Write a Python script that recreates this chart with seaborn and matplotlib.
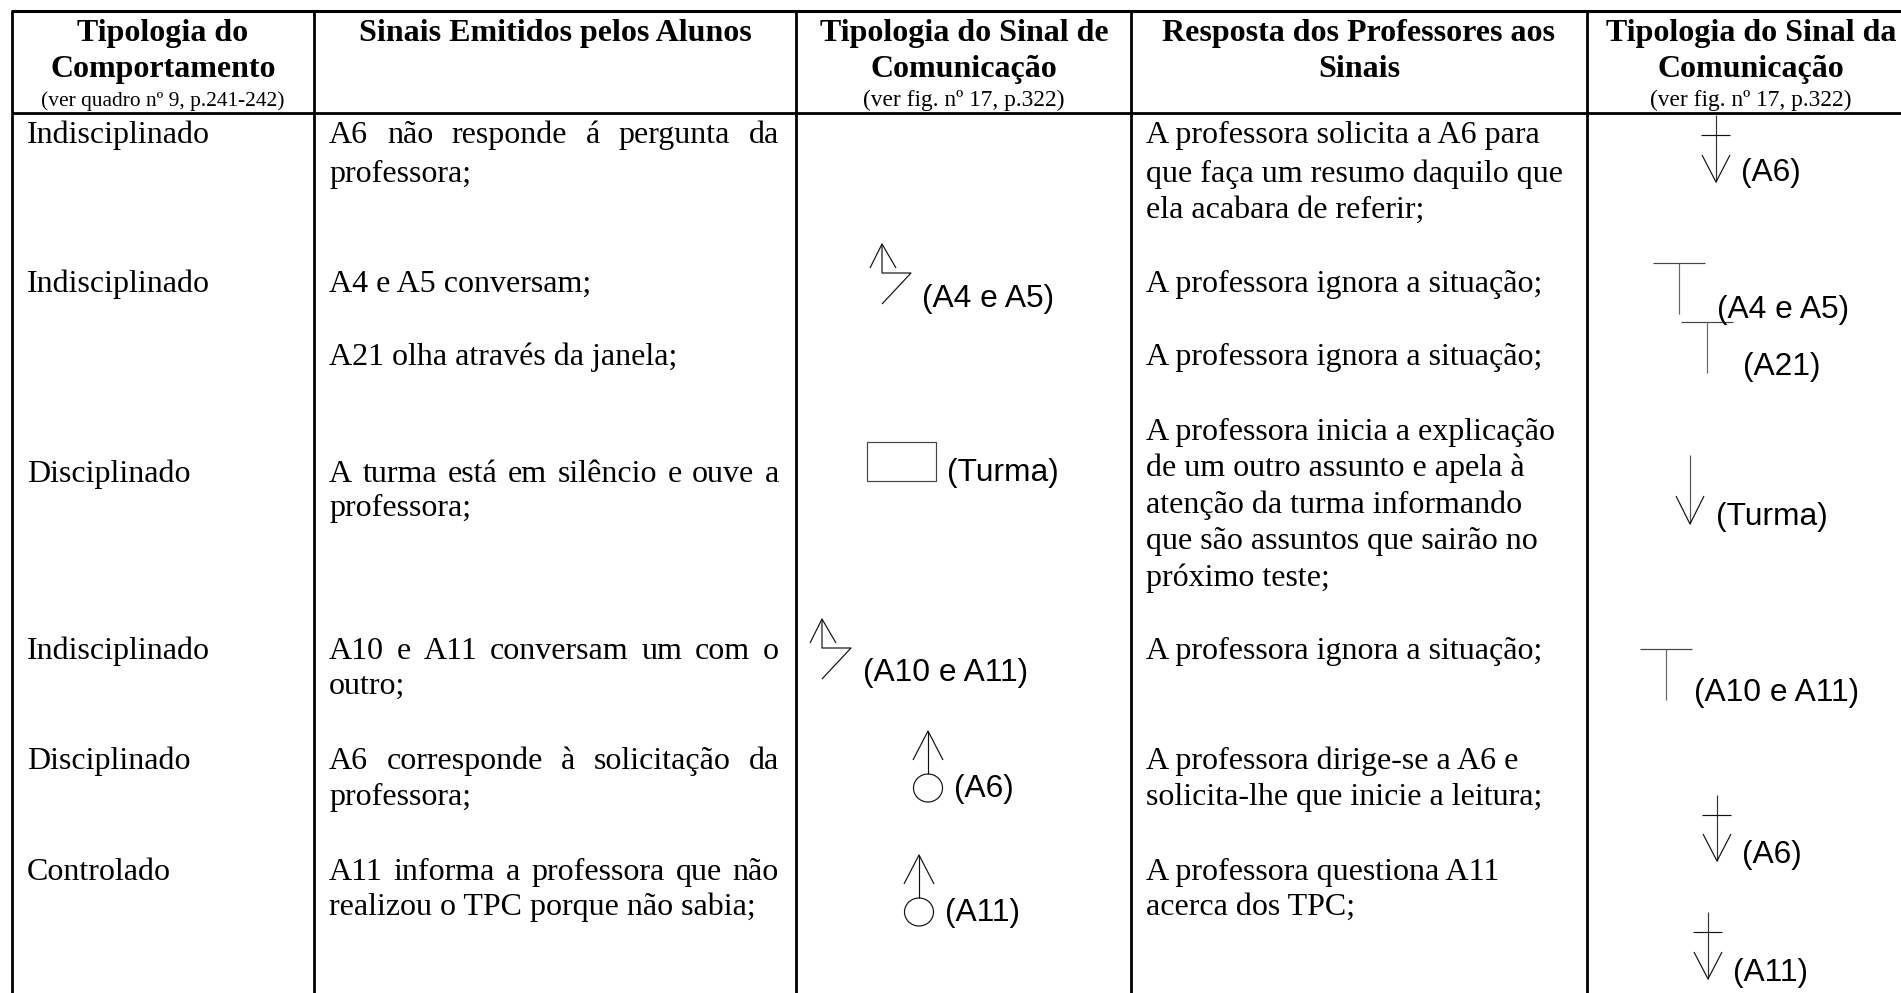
import matplotlib
matplotlib.use('Agg')
import matplotlib.pyplot as plt
from matplotlib.patches import Ellipse, Rectangle
import seaborn as sns

SERIF = 'Liberation Serif'
SANS = 'Liberation Sans'
BODY = 23.0
LABEL = 22.9

# cabecalho: (centro, baseline, texto)
header_titles = [
    (163, 41, 'Tipologia do'), (163, 77, 'Comportamento'),
    (555, 41, 'Sinais Emitidos pelos Alunos'),
    (964, 41, 'Tipologia do Sinal de'), (964, 77, 'Comunicação'),
    (1359, 41, 'Resposta dos Professores aos'), (1359, 77, 'Sinais'),
    (1751, 41, 'Tipologia do Sinal da'), (1751, 77, 'Comunicação'),
]
header_notes = [
    (163, 106, '(ver quadro nº 9, p.241-242)', 15.4),
    (964, 106, '(ver fig. nº 17, p.322)', 16.8),
    (1751, 106, '(ver fig. nº 17, p.322)', 16.8),
]

behaviour = [
    (143, 'Indisciplinado'), (292, 'Indisciplinado'), (482, 'Disciplinado'),
    (659, 'Indisciplinado'), (769, 'Disciplinado'), (880, 'Controlado'),
]

# sinais dos alunos, linhas justificadas marcadas com True
signals = [
    (143, 'A6 não responde á pergunta da', True), (182, 'professora;', False),
    (292, 'A4 e A5 conversam;', False),
    (365, 'A21 olha através da janela;', False),
    (482, 'A turma está em silêncio e ouve a', True), (516, 'professora;', False),
    (659, 'A10 e A11 conversam um com o', True), (694, 'outro;', False),
    (769, 'A6 corresponde à solicitação da', True), (805, 'professora;', False),
    (880, 'A11 informa a professora que não', True), (915, 'realizou o TPC porque não sabia;', False),
]

responses = [
    (143, 'A professora solicita a A6 para'), (182, 'que faça um resumo daquilo que'),
    (218, 'ela acabara de referir;'),
    (292, 'A professora ignora a situação;'), (365, 'A professora ignora a situação;'),
    (440, 'A professora inicia a explicação'), (476, 'de um outro assunto e apela à'),
    (513, 'atenção da turma informando'), (549, 'que são assuntos que sairão no'),
    (586, 'próximo teste;'),
    (659, 'A professora ignora a situação;'),
    (769, 'A professora dirige-se a A6 e'), (805, 'solicita-lhe que inicie a leitura;'),
    (880, 'A professora questiona A11'), (915, 'acerca dos TPC;'),
]

symbol_labels = [
    (922, 307, '(A4 e A5)'), (947, 481, '(Turma)'), (863, 681, '(A10 e A11)'),
    (954, 797, '(A6)'), (945, 921, '(A11)'),
    (1741, 181, '(A6)'), (1717, 318, '(A4 e A5)'), (1743, 375, '(A21)'),
    (1716, 525, '(Turma)'), (1694, 701, '(A10 e A11)'),
    (1742, 863, '(A6)'), (1733, 981, '(A11)'),
]

# simbolos: (x, y) de referencia de cada sinal
zigzag_signs = [(882, 244), (822, 619)]
circle_signs = [(928, 731), (919, 855)]
box_signs = [(867, 442, 69, 39)]
down_arrows = [(1690, 455, 524)]
t_signs = [(1679, 263, 314), (1707, 322, 373), (1666, 649, 700)]
cross_arrows = [(1716, 115, 182), (1717, 795, 861), (1708, 912, 979)]

col_edges = [12, 314, 796, 1131, 1587]
top_y, header_y = 11, 113

sns.set_theme(style='white')
plt.rcParams['text.color'] = 'black'
fig, ax = plt.subplots(figsize=(19.01, 9.93), dpi=100)
ax.set_position([0, 0, 1, 1])
ax.set_xlim(0, 1901)
ax.set_ylim(993, 0)
ax.axis('off')


def stroke(xs, ys, lw=0.85, color='#111111'):
    sns.lineplot(x=xs, y=ys, sort=False, estimator=None, ax=ax, color=color,
                 linewidth=lw, legend=False, solid_capstyle='butt')


def arrow_head(x, tip, dy):
    stroke([x - 14, x, x + 14], [tip - dy, tip, tip - dy])


# grelha
for x in col_edges:
    stroke([x, x], [top_y, 993], lw=2.0, color='black')
stroke([col_edges[0] - 1, 1901], [top_y, top_y], lw=2.2, color='black')
stroke([col_edges[0], 1901], [header_y, header_y], lw=2.0, color='black')

# textos
for x, y, s in header_titles:
    ax.text(x, y, s, family=SERIF, weight='bold', size=BODY, ha='center', va='baseline')
for x, y, s, size in header_notes:
    ax.text(x, y, s, family=SERIF, size=size, ha='center', va='baseline')
for y, s in behaviour:
    ax.text(27, y, s, family=SERIF, size=BODY, va='baseline')
for y, s in responses:
    ax.text(1146, y, s, family=SERIF, size=BODY, va='baseline')

renderer = fig.canvas.get_renderer()
for y, s, justified in signals:
    if not justified:
        ax.text(329, y, s, family=SERIF, size=BODY, va='baseline')
        continue
    words = [ax.text(0, y, w, family=SERIF, size=BODY, va='baseline') for w in s.split()]
    widths = [w.get_window_extent(renderer).width for w in words]
    gap = (779 - 329 - sum(widths)) / (len(words) - 1)
    x = 329
    for w, width in zip(words, widths):
        w.set_x(x)
        x += width + gap

for x, y, s in symbol_labels:
    ax.text(x, y, s, family=SANS, size=LABEL, va='baseline')

# sinais desenhados
for x, tip in zigzag_signs:
    stroke([x - 12, x, x + 14], [tip + 24, tip, tip + 24])
    stroke([x, x, x + 29, x], [tip, tip + 29, tip + 29, tip + 60])
for x, tip in circle_signs:
    stroke([x - 15, x, x + 15], [tip + 29, tip, tip + 29])
    stroke([x, x], [tip, tip + 43])
    ax.add_patch(Ellipse((x, tip + 57), 29, 28, fill=False, lw=0.85, ec='#111111'))
for x, y, w, h in box_signs:
    ax.add_patch(Rectangle((x, y), w, h, fill=False, lw=0.85, ec='#444444'))
for x, top, tip in down_arrows:
    stroke([x, x], [top, tip], color='#555555')
    arrow_head(x, tip, 28)
for x, top, bottom in t_signs:
    stroke([x - 26, x + 26], [top, top], color='#444444')
    stroke([x, x], [top, bottom], color='#666666')
for x, top, tip in cross_arrows:
    stroke([x, x], [top, tip], color='#333333')
    stroke([x - 15, x + 14], [top + 20, top + 20])
    arrow_head(x, tip, 27)

fig.savefig('out.png', dpi=100)
